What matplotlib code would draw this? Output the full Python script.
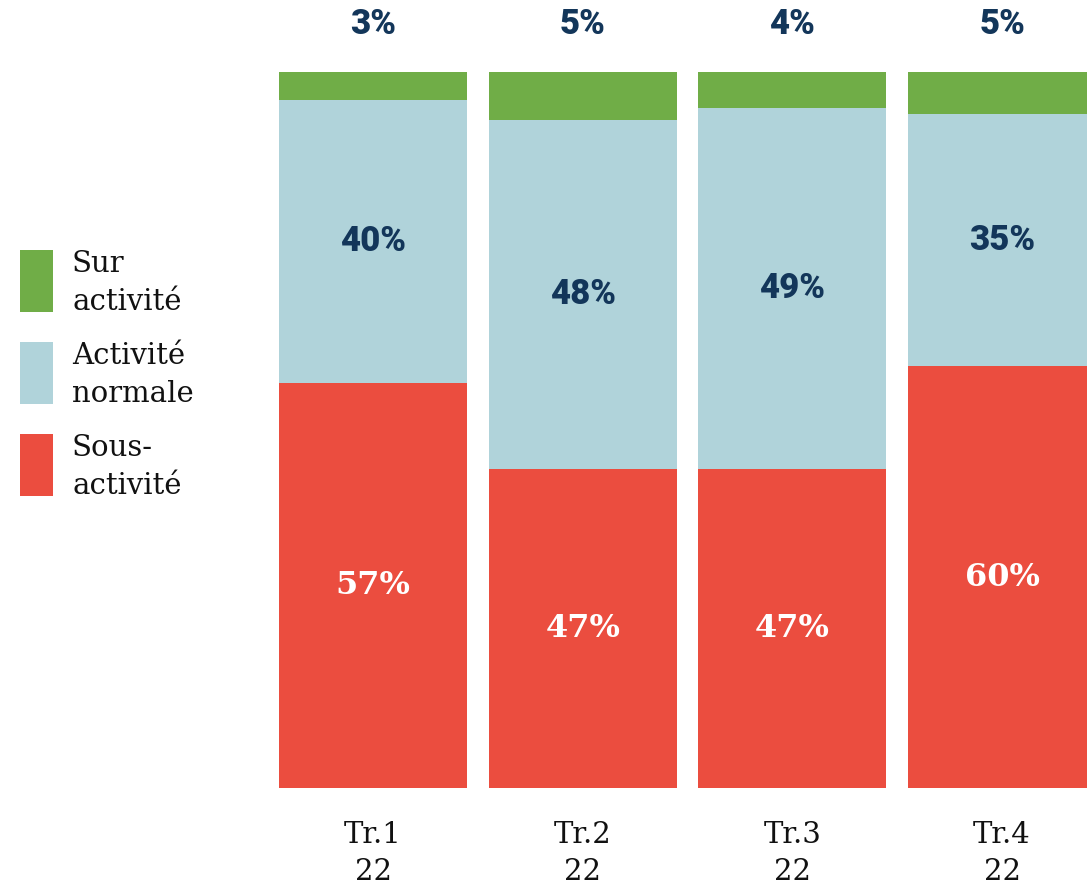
import matplotlib
matplotlib.use("Agg")
import matplotlib.pyplot as plt
from matplotlib.patches import Rectangle

cat_line1 = ["Tr.1", "Tr.2", "Tr.3", "Tr.4"]
cat_line2 = ["22", "22", "22", "22"]
series_names = [("Sur", "activité"), ("Activité", "normale"), ("Sous-", "activité")]
# bar heights (share of bar height, %)
sur_vals = [3.9, 6.7, 5.0, 5.9]
normale_vals = [39.5, 48.7, 50.4, 35.2]
sous_vals = [56.6, 44.6, 44.6, 58.9]
# printed labels
sur_labels = [3, 5, 4, 5]
normale_labels = [40, 48, 49, 35]
sous_labels = [57, 47, 47, 60]

GREEN = "#70ad47"
BLUE = "#b0d3da"
RED = "#eb4d3f"
NAVY = "#13365a"
colors = [GREEN, BLUE, RED]

W, H = 1087, 885
fig = plt.figure(figsize=(W / 100, H / 100), dpi=100)
ax = fig.add_axes([279 / W, 1 - 788 / H, (1087 - 279) / W, (788 - 72) / H])

x = list(range(len(cat_line1)))
width = 0.897
ax.bar(x, sous_vals, width=width, color=RED, linewidth=0)
ax.bar(x, normale_vals, width=width, bottom=sous_vals, color=BLUE, linewidth=0)
bot2 = [a + b for a, b in zip(sous_vals, normale_vals)]
ax.bar(x, sur_vals, width=width, bottom=bot2, color=GREEN, linewidth=0)

ax.set_xlim(-0.4485, 3.405)
ax.set_ylim(0, 100)
ax.axis("off")

slab = ["DejaVu Serif"]
sans = ["Roboto"]

def py(px):
    # figure pixel row -> data y
    return (788 - px) / 7.16

for i in x:
    ax.text(i, sous_vals[i] / 2, f"{sous_labels[i]}%", ha="center", va="center",
            color="white", fontsize=23, fontweight="bold", family=slab)
    ax.text(i, sous_vals[i] + normale_vals[i] / 2, f"{normale_labels[i]}%", ha="center",
            va="center", color=NAVY, fontsize=25, fontweight="black", family=sans)
    ax.text(i, py(25), f"{sur_labels[i]}%", ha="center", va="center", color=NAVY,
            fontsize=25, fontweight="black", family=sans, clip_on=False)
    ax.text(i, py(843), cat_line1[i], ha="center", va="baseline", color="#111111",
            fontsize=21, family=slab, clip_on=False)
    ax.text(i, py(880), cat_line2[i], ha="center", va="baseline", color="#111111",
            fontsize=21, family=slab, clip_on=False)

# legend
legend_tops = [250, 342, 434]
for (l1, l2), col, top in zip(series_names, colors, legend_tops):
    fig.patches.append(Rectangle((20 / W, 1 - (top + 62) / H), 33 / W, 62 / H,
                                 transform=fig.transFigure, color=col, linewidth=0))
    fig.text(72 / W, 1 - (top + 22) / H, l1, ha="left", va="baseline",
             fontsize=21, family=slab, color="#111111")
    fig.text(72 / W, 1 - (top + 60) / H, l2, ha="left", va="baseline",
             fontsize=21, family=slab, color="#111111")

fig.savefig("out.png", dpi=100)
